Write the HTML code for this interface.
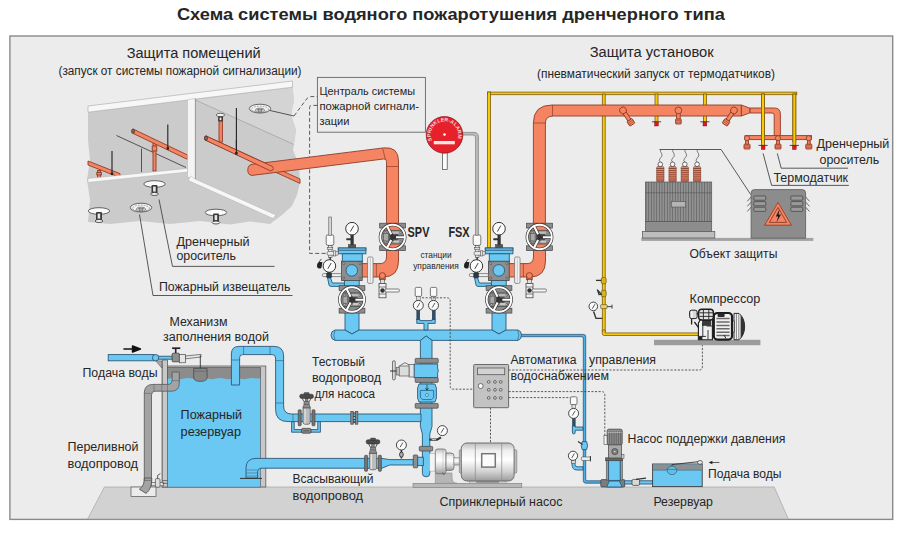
<!DOCTYPE html>
<html><head><meta charset="utf-8">
<style>
html,body{margin:0;padding:0;background:#fff;}
svg{display:block}
text{font-family:"Liberation Sans",sans-serif;fill:#262626}
.t{font-size:12.5px}
.rp{fill:#f48462;stroke:#8f3d28;stroke-width:.9}
.bp{fill:#6ac8f2;stroke:#2d5877;stroke-width:.9}
.yp{fill:#f8ca05;stroke:#7a5a14;stroke-width:.8}
.gp{fill:#9a9a9a;stroke:#555;stroke-width:.7}
.ld{fill:none;stroke:#333;stroke-width:.8}
.ds{fill:none;stroke:#4a4a4a;stroke-width:.9;stroke-dasharray:2.1 1.5}
.dl{fill:none;stroke:#5a5a5a;stroke-width:1;stroke-dasharray:4 2.4}
.fl{fill:#8d8d8d;stroke:#444;stroke-width:.7}
.wh{fill:#f6f6f6;stroke:#555;stroke-width:.7}
.k{fill:none;stroke:#333;stroke-width:.8}
</style></head><body>
<svg width="900" height="534" viewBox="0 0 900 534">
<rect width="900" height="534" fill="#fff"/>
<text x="450.9" y="19.9" text-anchor="middle" font-size="17.3" font-weight="bold" textLength="548" lengthAdjust="spacingAndGlyphs" fill="#1d1d1d">Схема системы водяного пожаротушения дренчерного типа</text>
<!-- panel -->
<rect x="9.9" y="36" width="882.8" height="483.4" fill="#ececec" stroke="#8a8a8a" stroke-width="1.4"/>
<!-- floor -->
<polygon points="104.4,487 774.2,487 788.3,519 87.6,519" fill="#d2d2d2" stroke="#9a9a9a" stroke-width=".6"/>
<defs>
<g id="sprk">
<ellipse rx="10.7" ry="3.3" fill="#fafafa" stroke="#444" stroke-width=".8"/>
<rect x="-3" y="1" width="6" height="8.6" rx="1" fill="#3a3a3a"/>
<rect x="-1.4" y="2.6" width="2.6" height="5" fill="#e8e8e8"/>
<ellipse cy="10" rx="3.9" ry="1.5" fill="#f4f4f4" stroke="#333" stroke-width=".8"/>
</g>
<g id="smk">
<ellipse rx="10.7" ry="4.4" fill="#f2f2f2" stroke="#444" stroke-width=".8"/>
<ellipse cy=".6" rx="8.4" ry="3" fill="none" stroke="#666" stroke-width=".6" stroke-dasharray="1.6 1.2"/>
<ellipse cy="1.8" rx="4.6" ry="2.2" fill="#c9c9c9" stroke="#555" stroke-width=".6"/>
<path d="M-3,1 H3 M-2,2.6 H2 M-1.4,.2 V3.6 M1.4,.2 V3.6" stroke="#555" stroke-width=".5" fill="none"/>
</g>
</defs>
<g id="ceiling">
<!-- gray mass -->
<path d="M88,112 L292.5,87 L294,100 L291,115 L296,130 L293,150 L299,165 L300,183 L297,195 L292,206 L282,215 L270,224 L250,221.5 L230,224.5 L200,221 L170,224 L140,221 L110,224 L88,222 L90,200 L87,180 L90,160 L88,140Z" fill="#cbcbcb"/>
<!-- right room back wall lighter -->
<path d="M195.5,100 L292.5,87.6 L294,100 L291,115 L296,130 L294,144Z" fill="#d4d4d4"/>
<path d="M195.5,100 L294,144.5" fill="none" stroke="#8f8f8f" stroke-width=".5"/>
<!-- left room inner lines -->
<path d="M116.5,135.5 L186,167.5 M141.5,148.5 V172" class="k" stroke-width=".6"/>
<!-- small pipe B (left-front) -->
<path d="M88,161 L120,173.6 L120,177.6 L88,165Z" class="rp" stroke-width=".6"/>
<rect x="97.6" y="170.5" width="3" height="8" class="rp" stroke-width=".5"/>
<rect x="96.8" y="172.5" width="4.6" height="2.4" class="rp" stroke-width=".5"/>
<!-- pipe A -->
<rect x="153" y="143.5" width="3" height="27.5" class="rp" stroke-width=".5"/>
<rect x="152.2" y="146" width="4.6" height="5" class="rp" stroke-width=".5"/>
<path d="M133,129 L187.5,155 L187.5,159.4 L133,133.4Z" class="rp" stroke-width=".6"/>
<ellipse cx="133" cy="131.2" rx="1.5" ry="2.2" fill="#8a6a60" stroke="#4a2a20" stroke-width=".7"/>
<path d="M112,151 V174.6 M167.8,124.6 V149.4" stroke="#222" stroke-width="1.1"/>
<path d="M110.8,172.6 h2.4 v2.4 h-2.4z M166.6,147.2 h2.4 v2.4 h-2.4z" fill="#222"/>
<!-- top white beam -->
<path d="M88,106 L292.5,81 L292.5,87.2 L88,112.2Z" fill="#f7f7f7" stroke="#999" stroke-width=".5"/>
<!-- right room pipe C drop + sprinkler on ceiling -->
<rect x="219" y="117" width="3.4" height="25" class="rp" stroke-width=".5"/>
<ellipse cx="220.4" cy="115" rx="4.2" ry="1.7" fill="#f4f4f4" stroke="#333" stroke-width=".7"/>
<rect x="218.2" y="116.4" width="4.6" height="5" rx="1" fill="#333"/><rect x="219.6" y="117.6" width="1.8" height="2.6" fill="#eee"/>
<path d="M206,136 L300,179 L300,183.4 L206,140.4Z" class="rp" stroke-width=".6"/>
<ellipse cx="206" cy="138.2" rx="1.5" ry="2.2" fill="#8a6a60" stroke="#4a2a20" stroke-width=".7"/>
<path d="M236.4,108 V154.4" stroke="#222" stroke-width="1.1"/><path d="M235.2,152 h2.4 v2.6 h-2.4z" fill="#222"/>
<!-- vertical divider -->
<path d="M187.5,99.6 L195.4,98.6 L195.4,180 L187.5,177Z" fill="#f4f4f4" stroke="#b5b5b5" stroke-width=".5"/>
<path d="M195.4,98.7 V180" fill="none" stroke="#777" stroke-width=".6"/>
<!-- lower left beam -->
<path d="M88,178.6 L187.5,168.4 L187.5,172 L88,182.4Z" fill="#f7f7f7" stroke="#aaa" stroke-width=".4"/>
<!-- right lower beam -->
<path d="M190.5,176 L195,179 L276,215 L273,218.4 L188.5,180.6Z" fill="#f7f7f7" stroke="#aaa" stroke-width=".4"/>
<!-- sprinklers & detectors -->
<use href="#sprk" x="154.5" y="184"/>
<use href="#sprk" x="99" y="211"/>
<use href="#sprk" x="216" y="212.5"/>
<use href="#smk" x="260" y="108.6"/>
<use href="#smk" x="141" y="207.6"/>
<!-- leaders -->
<path d="M270,110.5 L294,116" class="k" stroke-width=".7"/>
<path d="M159,199.5 L172.5,266.4 H274.5" class="k" stroke-width=".7"/>
<path d="M139.5,214.5 L153,295.5 H292.5" class="k" stroke-width=".7"/>
</g>
<g id="tank">
<!-- tank walls -->
<rect x="162.2" y="366" width="103.6" height="121" fill="#c8c8c8" stroke="#5a5a5a" stroke-width=".8"/>
<rect x="162.2" y="360" width="5.4" height="127" fill="#c8c8c8" stroke="#5a5a5a" stroke-width=".8"/>
<rect x="167.6" y="367.4" width="93" height="119.6" fill="#8c8c8c" stroke="#5a5a5a" stroke-width=".7"/>
<!-- water -->
<path d="M167.8,379 Q172,377.2 176,378.6 T184,378.6 T192,378.6 T200,378.6 T208,378.6 T216,378.6 T224,378.6 T232,378.6 T240,378.6 T248,378.6 T256,378.6 L260.2,378.2 V486.7 H167.8Z" fill="#6ac8f2"/>
<!-- overflow pipe (gray) -->
<path d="M144.3,484 V393 Q144.3,384.4 153,384.4 H168 Q172.1,384.4 172.1,380 V372 H179.3 V383 Q179.3,391.2 171,391.2 H155 Q151.5,391.2 151.5,395 V484Z" fill="#a3a3a3" stroke="#555" stroke-width=".8"/>
<path d="M144.3,393.4 H151.5 M154,384.4 V391.2 M161.8,384.4 V391.2 M167.5,384.4 V391.2 M172.1,380.6 H179.3" stroke="#666" stroke-width=".6" fill="none"/>
<!-- drain box -->
<rect x="131" y="487" width="25" height="9.4" fill="#ececec" stroke="#555" stroke-width=".7"/>
<path d="M144.3,478 C144.3,484 142.6,487 139.4,489.2 L146,493.4 C150,490.4 151.8,485 151.8,478Z" fill="#a3a3a3" stroke="#4a4a4a" stroke-width=".8"/><path d="M144.3,480.4 H151.7" stroke="#555" stroke-width=".6"/>
</g>
<g id="yellow">
<!-- top horizontal -->
<rect x="487.5" y="92.1" width="309.3" height="2.6" class="yp"/>
<rect x="487.6" y="92" width="3" height="156" class="yp"/>
<rect x="602.3" y="94" width="2.9" height="238" class="yp"/>
<rect x="655" y="94" width="3" height="28" class="yp"/>
<rect x="703.4" y="94" width="3" height="28" class="yp"/>
<rect x="761.5" y="94" width="3" height="48" class="yp"/>
<rect x="792.8" y="94" width="3" height="48" class="yp"/>
<path d="M602.3,330 V333.6 Q602.3,335.5 604.2,335.5 H700 V332.9 H605.1 V330Z" class="yp"/>
</g>
<g id="redpipes">
<!-- left big pipe from ceiling -->
<path d="M252,164.3 L383.5,147.9 Q398.5,146.4 398.5,161 L398.5,224 L386.5,224 L386.5,161.5 Q386.5,158.6 383.6,159 L252,175.4 Q247.6,175 247.8,169.8 Q248,164.8 252,164.3Z" class="rp"/>
<path d="M382.6,148 L385.3,159.2 M386.5,166.5 H398.5" fill="none" stroke="#8f3d28" stroke-width=".7"/>
<path d="M206,136 L272.4,166.4 Q274.4,168.6 272.6,170.2 Q271,171.4 269,170.2 L206,140.4Z" class="rp" stroke-width=".6"/>
<ellipse cx="206" cy="138.2" rx="1.5" ry="2.2" fill="#8a6a60" stroke="#4a2a20" stroke-width=".7"/>
<path d="M236.4,140 V154.4" stroke="#222" stroke-width="1.1"/><path d="M235.2,152 h2.4 v2.6 h-2.4z" fill="#222"/>
<!-- left lower elbow -->
<path d="M386.5,250 V257 Q386.5,263.6 380,263.6 H361 V277 H383 Q398.5,277 398.5,261 V250Z" class="rp"/>
<!-- right big pipe -->
<path d="M741.4,105 H552 Q533.4,105 533.4,123 V224 H545.4 V123 Q545.4,116 553.5,116 H741.4Z" class="rp"/>
<path d="M552.5,105 V116 M533.4,123 H545.4" fill="none" stroke="#8f3d28" stroke-width=".7"/>
<path d="M741.4,105 L750,108.2 V112.8 L741.4,116Z" class="rp"/>
<path d="M750,108 H774.5 Q780.4,108 780.4,114 V136 H774.2 V115 Q774.2,113 772,113 H750Z" class="rp"/>
<rect x="745" y="135.6" width="66.5" height="4" class="rp"/>
<!-- right lower elbow -->
<path d="M533.5,250 V257 Q533.5,263.6 527,263.6 H508 V277 H530 Q545.5,277 545.5,261 V250Z" class="rp"/>
</g>
<g id="bluepipes">
<!-- thin line to jockey pump -->
<path d="M519,334.4 H583.4 Q585.7,334.4 585.7,336.7 V479 Q585.7,480.8 587.4,480.8 H601.5 V483.2 H586 Q583.3,483.2 583.3,480.6 V338 Q583.3,336.7 582,336.7 H519Z" style="fill:#4db0e6;stroke:#2d5877;stroke-width:.8"/>
<!-- risers -->
<path d="M345,312 V330 L352,334 L359,330 V312Z" class="bp"/>
<path d="M492,312 V330 L499,334 L506,330 V312Z" class="bp"/>
<!-- header -->
<path d="M335,330 H345 L352,334 L359,330 H492 L499,334 L506,330 H518 Q521.5,331 521.5,335.2 Q521.5,339.4 518,340.4 H432 L426.2,336 L420.4,340.4 H335 Q331,339.4 331,335.2 Q331,331 335,330Z" class="bp"/>
<path d="M335,330.3 Q332.6,335.2 335,340.2 M517.6,330.3 Q520,335.2 517.6,340.2" fill="none" stroke="#2d5877" stroke-width=".6"/>
<!-- center down -->
<path d="M420.4,340.4 L426.2,336 L432,340.4 V426.5 L429.8,434 V473.4 Q429.8,476.8 426.1,476.8 Q422.4,476.8 422.4,473.4 V434 L420.4,426.5Z" class="bp"/>
<!-- test pipe -->
<path d="M231.4,385 V354 Q231.4,346.4 239,346.4 H274 Q283.6,346.4 283.6,356 V406 Q283.6,414 291.6,414 H421 V421.6 H288 Q275.6,421.6 275.6,409.4 V358 Q275.6,354.6 272.2,354.6 H242.6 Q239.6,354.6 239.6,357.6 V385Z" class="bp"/><path d="M231.4,360 H239.6 M243.6,346.4 V354.6 M270,346.4 V354.6 M275.6,360.6 H283.6 M275.6,403 H283.6 M293,414 V421.6" stroke="#2d5877" stroke-width=".6" fill="none"/>
<!-- suction pipe -->
<path d="M246,478 V468 Q246,458.4 256,458.4 H382 L389.6,459.6 H413.3 V465 H389.6 L382,468.2 H262 Q257.6,468.2 257.6,472 V478Z" class="bp"/>
<!-- inlet -->
<rect x="108.2" y="354.6" width="46" height="6.2" class="bp"/>
</g>
<defs>
<g id="gauge"><circle r="6.3" fill="#fbfbfb" stroke="#333" stroke-width="1"/><path d="M-1.6,2.8 L1.8,-3" stroke="#333" stroke-width=".9"/></g>
<g id="gaugeS"><circle r="5" fill="#fbfbfb" stroke="#333" stroke-width=".9"/><path d="M-1.3,2.2 L1.5,-2.5" stroke="#333" stroke-width=".8"/></g>
<!-- butterfly valve w/ handwheel; pipe colour = currentColor -->
<clipPath id="wc"><circle r="11.6"/></clipPath>
<g id="bfv">
<rect x="-12.9" y="-13.8" width="25.8" height="4.8" class="fl"/>
<rect x="-12.9" y="8.8" width="25.8" height="4.8" class="fl"/>
<circle r="11.6" fill="currentColor"/>
<g clip-path="url(#wc)">
<rect x="-12" y="-6.6" width="24" height="13.6" fill="#8d8d8d"/>
<path d="M-12,-6.6 H12 M-12,7 H12" stroke="#444" stroke-width=".7"/>
<rect x="-9" y="-3.4" width="4.6" height="7.4" fill="#a9a9a9" stroke="#444" stroke-width=".5"/>
<rect x="-3.4" y="-3" width="9" height="7" fill="#4e4e4e"/>
<rect x="-1" y="-5.4" width="8" height="2.2" fill="#bdbdbd"/>
<rect x="1" y="3.4" width="6" height="2.2" fill="#c9c9c9"/>
</g>
<circle cx="-7.4" cy="-4.4" r=".9" fill="#ddd" stroke="#222" stroke-width=".4"/><circle cx="7.6" cy="-4.4" r=".9" fill="#ddd" stroke="#222" stroke-width=".4"/><circle cx="-7.4" cy="4.8" r=".9" fill="#ddd" stroke="#222" stroke-width=".4"/><circle cx="7.6" cy="4.8" r=".9" fill="#ddd" stroke="#222" stroke-width=".4"/>
<circle r="12.3" fill="none" stroke="#333" stroke-width="3.2"/>
<path d="M0,0 L-5.4,-10.6 M0,.3 L11.4,.3 M0,0 L-5.4,10.8" stroke="#333" stroke-width="3.4" fill="none"/>
<circle r="12.3" fill="none" stroke="#fdfdfd" stroke-width="1.9"/>
<path d="M-1.4,-2.8 L-5.8,-11.4 M3.4,.3 L12.3,.3 M-1.4,3 L-5.8,11.6" stroke="#fdfdfd" stroke-width="2.1" fill="none"/>
</g>
<!-- deluge valve station, left absolute coordinates -->
<g id="station">
<!-- upper gauge + stem -->
<rect x="350.5" y="234" width="3.2" height="14" fill="#333"/>
<rect x="346.2" y="238.2" width="6" height="2" rx=".8" fill="#333"/>
<rect x="348.4" y="244.6" width="7.4" height="3.4" fill="#555" stroke="#222" stroke-width=".4"/>
<use href="#gauge" x="352" y="228.7"/>
<!-- blue cap/body -->
<rect x="338.3" y="248" width="27.6" height="5.8" class="bp"/>
<rect x="338.3" y="248" width="27.6" height="2.2" class="bp"/>
<rect x="342.3" y="253.8" width="20" height="8" class="bp"/>
<rect x="344.4" y="279.6" width="14.8" height="7" class="bp"/>
<!-- gray square body -->
<rect x="341.5" y="261.2" width="20.7" height="19.2" fill="#8e8e8e" stroke="#444" stroke-width=".8"/>
<circle cx="343.8" cy="263.6" r="1" fill="#bbb" stroke="#333" stroke-width=".5"/><circle cx="359.9" cy="263.6" r="1" fill="#bbb" stroke="#333" stroke-width=".5"/><circle cx="343.8" cy="278" r="1" fill="#bbb" stroke="#333" stroke-width=".5"/><circle cx="359.9" cy="278" r="1" fill="#bbb" stroke="#333" stroke-width=".5"/>
<circle cx="351.8" cy="270.4" r="5.8" class="bp" stroke-width="1"/>
<!-- trim left: white cylinder, fittings -->
<rect x="326.2" y="234.8" width="7.6" height="10.6" rx="1.8" fill="#fafafa" stroke="#444" stroke-width=".7"/>
<rect x="328.4" y="245.4" width="3.6" height="12" fill="#e6e6e6" stroke="#444" stroke-width=".6"/>
<rect x="327.6" y="247.6" width="5.2" height="2" fill="#ddd" stroke="#444" stroke-width=".5"/>
<rect x="327.2" y="251.6" width="11" height="3.6" rx="1" fill="#f0f0f0" stroke="#444" stroke-width=".6"/>
<rect x="333.4" y="250.8" width="2.4" height="5.2" fill="#ddd" stroke="#444" stroke-width=".5"/>
<path d="M330.2,257 V260" stroke="#444" stroke-width="1.6"/>
<!-- left gauge -->
<path d="M318.6,262 q-2.4,2 -1.6,5 q1.6,2.4 4.4,1 l1,-6z" fill="#222"/>
<path d="M319,262 l2.4,-3" stroke="#222" stroke-width=".8"/>
<use href="#gauge" x="329.4" y="266"/>
<!-- under left gauge -->
<rect x="322.4" y="273.6" width="19" height="3" rx="1.2" fill="#f0f0f0" stroke="#444" stroke-width=".6"/>
<rect x="326.6" y="272.6" width="5" height="5.6" rx="1.4" fill="#2a3a44" stroke="#111" stroke-width=".4"/>
<path d="M327.6,278 L330.6,278 L332.4,283 H344.4 V286.4 H331 Q329.4,286.4 329,285Z" class="bp" stroke-width=".7"/>
<!-- red side: flange, drain, ball valve -->
<rect x="367.6" y="257" width="5.4" height="26.4" rx="1.4" fill="#f4f4f4" stroke="#666" stroke-width=".7"/>
<path d="M370.3,258 V282.4" stroke="#999" stroke-width=".5"/>
<path d="M376.4,263.8 V277" stroke="#8f3d28" stroke-width=".7"/>
<path d="M379.6,274 V280 H385.2 V274" class="rp" stroke-width=".6"/>
<circle cx="382.4" cy="275.6" r="3" class="rp" stroke-width=".6"/>
<rect x="380.6" y="279.6" width="3.8" height="4" fill="#ddd" stroke="#333" stroke-width=".5"/>
<rect x="379" y="283.4" width="7" height="14.4" fill="#f2f2f2" stroke="#333" stroke-width=".7"/>
<path d="M379,287 H386 M379,294 H386" stroke="#333" stroke-width=".6"/>
<circle cx="382.5" cy="290.5" r="2.2" fill="#333"/>
<rect x="385" y="289" width="14.4" height="3" rx="1.2" fill="#f7f7f7" stroke="#333" stroke-width=".6"/>
</g>
</defs>
<g id="valves">
<use href="#station"/>
<use href="#station" x="147"/>
<!-- upper butterfly valves on red pipes -->
<use href="#bfv" x="392.6" y="237" color="#f48462"/>
<use href="#bfv" x="539.5" y="237" color="#f48462"/>
<!-- lower butterfly valves on blue risers -->
<use href="#bfv" x="352" y="299.5" color="#8a8a8a"/>
<use href="#bfv" x="499" y="299.5" color="#8a8a8a"/>
<!-- left: rod above white cylinder -->
<rect x="328.8" y="217" width="2.8" height="18.4" fill="#d8d8d8" stroke="#555" stroke-width=".6"/>
<!-- right: gray tube from alarm, joins white cylinder -->
<path d="M462,132.4 H474 Q478.4,132.4 478.4,137 V235.4 H475.6 V138 Q475.6,135 473,135 H462Z" fill="#bdbdbd" stroke="#777" stroke-width=".7"/>
</g>
<defs>
<linearGradient id="mg" x1="0" y1="0" x2="0" y2="1">
<stop offset="0" stop-color="#bdbdbd"/><stop offset=".2" stop-color="#efefef"/><stop offset=".45" stop-color="#ffffff"/><stop offset=".75" stop-color="#d2d2d2"/><stop offset="1" stop-color="#9c9c9c"/>
</linearGradient>
<!-- gate valve (handwheel), centred on pipe axis at 0,0; pipe horizontal -->
<g id="gatev">
<rect x="-8.4" y="-8" width="3" height="16" rx=".8" fill="#757575" stroke="#3a3a3a" stroke-width=".6"/>
<rect x="5.4" y="-8" width="3" height="16" rx=".8" fill="#757575" stroke="#3a3a3a" stroke-width=".6"/>
<path d="M-3.6,-10 H3.6 V5 Q3.6,6.6 0,6.6 Q-3.6,6.6 -3.6,5Z" fill="#bcbcbc" stroke="#555" stroke-width=".7"/>
<path d="M-1.6,-9 V5.6" stroke="#e2e2e2" stroke-width="1.2"/>
<path d="M-3.8,-10 L-2.6,-13.4 V-16.4 H2.6 V-13.4 L3.8,-10Z" fill="#8c8c8c" stroke="#444" stroke-width=".6"/>
<path d="M-2.6,-13.4 H2.6" stroke="#444" stroke-width=".5"/>
<path d="M-2.8,-16.4 L-4.4,-19.6 M2.8,-16.4 L4.4,-19.6" stroke="#333" stroke-width=".8"/>
<rect x="-1.3" y="-19.6" width="2.6" height="3.4" fill="#888" stroke="#333" stroke-width=".4"/>
<rect x="-6.9" y="-23.6" width="13.8" height="4.2" rx="2" fill="#4a4a4a" stroke="#222" stroke-width=".5"/>
<rect x="-2.6" y="-25.2" width="5.2" height="2" rx=".8" fill="#5a5a5a" stroke="#222" stroke-width=".4"/>
</g>
</defs>
<g id="centre">
<!-- header gauges -->
<rect x="415.2" y="287.4" width="6.4" height="9" rx="1.2" fill="#fafafa" stroke="#444" stroke-width=".7"/>
<rect x="430.4" y="287.4" width="6.4" height="9" rx="1.2" fill="#fafafa" stroke="#444" stroke-width=".7"/>
<rect x="416.6" y="296.4" width="3.6" height="4" fill="#ddd" stroke="#444" stroke-width=".5"/>
<rect x="431.8" y="296.4" width="3.6" height="4" fill="#ddd" stroke="#444" stroke-width=".5"/>
<path d="M416.8,319 V323.4 H424 V330 H428 V323.4 H435.2 V319 H432.2 V320.6 H419.8 V319Z" class="bp" stroke-width=".7"/>
<rect x="416.8" y="310" width="3" height="9.4" fill="#2c4f6e" stroke="#16293a" stroke-width=".4"/>
<rect x="432.2" y="310" width="3" height="9.4" fill="#2c4f6e" stroke="#16293a" stroke-width=".4"/>
<use href="#gaugeS" x="418.3" y="305.4"/>
<use href="#gaugeS" x="433.5" y="305.4"/>
<!-- actuator valve on centre pipe -->
<path d="M414,364 H437.6 V368 Q439,370.6 437.6,373.4 V377.6 H414Z" class="bp"/>
<rect x="415.2" y="358.4" width="23" height="4.8" rx=".8" class="fl"/>
<rect x="415.2" y="377.6" width="23" height="4.8" rx=".8" class="fl"/>
<rect x="415.2" y="403.4" width="23" height="4.8" rx=".8" class="fl"/>
<!-- actuator body left -->
<rect x="409" y="364.4" width="5" height="12.6" fill="#e4e4e4" stroke="#444" stroke-width=".6"/>
<path d="M399,366 H409 V376 H399 Q397,371 399,366Z" fill="#dcdcdc" stroke="#444" stroke-width=".6"/>
<path d="M399.4,366 L405,362.6 L409,365" fill="none" stroke="#444" stroke-width=".7"/>
<rect x="396.4" y="367.4" width="3" height="7.6" fill="#bbb" stroke="#444" stroke-width=".5"/>
<rect x="392.6" y="360.8" width="2.6" height="19" rx="1" fill="#e8e8e8" stroke="#333" stroke-width=".7"/>
<path d="M390,371 H396.4" stroke="#333" stroke-width="1"/>
<!-- check valve -->
<path d="M419,384 H435 L436.4,388 V398 L435,402 H419 L417.6,398 V388Z" class="bp" stroke="#1d5e88" stroke-width=".9"/>
<path d="M420.4,390.4 H433.6 V397.4 L431.6,399.6 H422.4 L420.4,397.4Z" fill="none" stroke="#1d5e88" stroke-width=".8"/>
<path d="M427,384.6 V389.6 M425.4,388 L427,390.2 L428.6,388" fill="none" stroke="#222" stroke-width=".7"/>
<circle cx="427" cy="395" r="1.5" fill="#bfe6fa" stroke="#1d5e88" stroke-width=".6"/>
<!-- test-pipe flange and gate valve -->
<rect x="350.8" y="411.4" width="2.4" height="12.8" class="fl" fill="#555"/>
<rect x="355.4" y="411.4" width="2.4" height="12.8" class="fl" fill="#555"/>
<path d="M353.2,413 H355.4 M353.2,416.4 H355.4 M353.2,419.6 H355.4 M353.2,422.6 H355.4" stroke="#222" stroke-width=".8"/>
<path d="M291.6,421.6 V432.2 H320.4 V421.6 H317.8 V429.6 H294.2 V421.6Z" class="bp" stroke-width=".6"/>
<rect x="301.6" y="428.4" width="9.4" height="4.8" rx="1.2" fill="#8a8a8a" stroke="#333" stroke-width=".7"/><path d="M303.4,430.8 H309.2" stroke="#333" stroke-width=".6"/>
<use href="#gatev" x="306.6" y="417.8"/>
<!-- suction gate valve -->
<use href="#gatev" x="373" y="463.3"/>
<!-- suction gauge -->
<path d="M401.4,450 V458.4" stroke="#333" stroke-width="1.6"/>
<ellipse cx="401.4" cy="454.6" rx="1.9" ry="2.6" fill="#aaa" stroke="#222" stroke-width=".8"/>
<use href="#gaugeS" x="401.4" y="445"/>
<!-- discharge gauge -->
<path d="M429.4,439.6 H437 L441,437.4" stroke="#333" stroke-width="2.2" fill="none"/>
<path d="M431.6,439.6 H436" stroke="#ccc" stroke-width="1"/>
<use href="#gaugeS" x="442.4" y="430.6"/>
<!-- suction flange and vertical flange -->
<rect x="413.3" y="455" width="4.4" height="12.8" rx=".8" class="fl"/>
<rect x="417.7" y="457.2" width="5.6" height="8.4" class="bp" stroke-width=".6"/>
<rect x="419.3" y="446.4" width="13.4" height="4.6" rx=".8" class="fl"/>
</g>
<g id="pump">
<!-- base plate -->
<rect x="413" y="483.3" width="108.8" height="4.2" fill="#b9b9b9" stroke="#7a7a7a" stroke-width=".6"/>
<!-- pump stand -->
<path d="M435.3,483.3 V473 H452 V477 Q452,483.3 457,483.3Z" fill="#b6b6b6" stroke="#8a8a8a" stroke-width=".6"/>
<!-- back plate -->
<rect x="429.3" y="453.7" width="6.4" height="17.4" fill="#f4f4f4" stroke="#999" stroke-width=".5"/>
<!-- pump housing -->
<rect x="435.3" y="449" width="10.8" height="24.8" rx="2.4" fill="url(#mg)" stroke="#707070" stroke-width=".8"/>
<path d="M446,453 H451 Q454,453 454,456 V467.4 Q454,470.4 451,470.4 H446Z" fill="url(#mg)" stroke="#707070" stroke-width=".8"/>
<path d="M443,449.6 V473.2" stroke="#aaa" stroke-width=".5"/>
<path d="M442.6,472.6 l1.8,2.4" stroke="#333" stroke-width=".7"/>
<rect x="454" y="457.7" width="6" height="7.4" fill="url(#mg)" stroke="#888" stroke-width=".5"/>
<!-- motor -->
<rect x="459.3" y="449.7" width="3.4" height="23.4" rx="1.2" fill="#bdbdbd" stroke="#777" stroke-width=".6"/>
<rect x="513.4" y="449.7" width="3.4" height="23.4" rx="1.2" fill="#bdbdbd" stroke="#777" stroke-width=".6"/>
<rect x="476" y="481" width="23" height="2" fill="#9a9a9a"/>
<rect x="469.3" y="480" width="7.4" height="3.4" fill="#cfcfcf" stroke="#888" stroke-width=".5"/>
<rect x="498.6" y="480" width="7.4" height="3.4" fill="#cfcfcf" stroke="#888" stroke-width=".5"/>
<rect x="461.3" y="443" width="52.8" height="38" rx="5.6" fill="url(#mg)" stroke="#636363" stroke-width=".9"/>
<path d="M475.3,443.4 V480.6 M501.7,443.4 V480.6" stroke="#8a8a8a" stroke-width=".7"/>
<rect x="481.7" y="453.7" width="13.6" height="13.4" fill="#fbfbfb" stroke="#777" stroke-width="1.5"/>
</g>
<defs>
<!-- small nozzle hanging from manifold; origin at joint centre -->
<g id="nzS">
<rect x="-1.4" y="2" width="2.8" height="4.4" class="rp" stroke-width=".5"/>
<circle r="2.6" class="rp" stroke-width=".6"/>
<rect x="-3" y="6" width="6" height="4.8" rx=".6" class="rp" stroke-width=".6"/>
<path d="M-3,7.6 H3 M-3,9.2 H3" stroke="#8f3d28" stroke-width=".5"/>
</g>
<!-- large nozzle, pointing down from joint; origin at joint centre -->
<g id="nzL">
<rect x="-1.8" y="2.6" width="3.6" height="6.4" class="rp" stroke-width=".6"/>
<circle r="3.4" class="rp" stroke-width=".8"/>
<rect x="-2.8" y="8.6" width="5.6" height="5" rx=".6" class="rp" stroke-width=".7"/>
<path d="M-2.8,10.2 H2.8 M-2.8,11.9 H2.8" stroke="#8f3d28" stroke-width=".5"/>
</g>
<g id="nzA">
<rect x="-1.8" y="2.6" width="3.6" height="9.4" class="rp" stroke-width=".6"/>
<circle r="3.4" class="rp" stroke-width=".8"/>
<rect x="-3" y="11.6" width="6" height="5.4" rx=".6" class="rp" stroke-width=".7"/>
<path d="M-3,13.4 H3 M-3,15.2 H3" stroke="#8f3d28" stroke-width=".5"/>
</g>
<g id="thermo">
<path d="M-4.6,0 H4.6" stroke="#222" stroke-width=".8"/>
<rect x="-1.9" y=".4" width="3.8" height="3.8" fill="#e3151f" stroke="#8a0d12" stroke-width=".4"/>
</g>
<g id="insul">
<path d="M0,-19.8 q-2.2,-1.6 0,-3.8 q2.8,-2.2 1.4,-4.6 q-1.6,-2 -1.4,-4.1" fill="none" stroke="#333" stroke-width=".6"/>
<rect x="-3.6" y="-15.2" width="7.2" height="15.2" rx="1" fill="#e98b6b" stroke="#7a3826" stroke-width=".5"/>
<path d="M-3.9,-13.3 H3.9 M-3.9,-11.2 H3.9 M-3.9,-9.1 H3.9 M-3.9,-7 H3.9 M-3.9,-4.9 H3.9 M-3.9,-2.8 H3.9 M-3.9,-.9 H3.9" stroke="#7a3826" stroke-width=".8"/>
<circle cx="0" cy="-17.5" r="2.3" fill="#fafafa" stroke="#333" stroke-width=".7"/>
</g>
<pattern id="fins" x="645.6" width="2.66" height="10" patternUnits="userSpaceOnUse"><rect width="2.66" height="10" fill="#929292"/><rect x="0" width=".8" height="10" fill="#646464"/></pattern>
</defs>
<g id="rightTop">
<!-- thermo sensors behind pipe level -->
<use href="#thermo" x="656.5" y="121.8"/>
<use href="#thermo" x="704.9" y="121.8"/>
<!-- large nozzles -->
<use href="#nzA" transform="translate(623,110.4) rotate(-33.5)"/>
<use href="#nzL" x="678.4" y="110.4"/>
<use href="#nzA" transform="translate(734,110.4) rotate(33.5)"/>
<!-- small nozzles on manifold -->
<use href="#nzS" x="747" y="138.2"/>
<use href="#nzS" x="778" y="138.2"/>
<use href="#nzS" x="808.8" y="138.2"/>
<!-- yellow drops in front of manifold -->
<rect x="761.6" y="94" width="2.9" height="52" class="yp"/>
<rect x="792.9" y="94" width="2.9" height="52" class="yp"/>
<use href="#thermo" x="763.1" y="145.4"/>
<use href="#thermo" x="794.3" y="145.4"/>
<!-- leaders -->
<path d="M763.1,153.4 L771.6,185.4 H848.8" class="k" stroke-width=".7"/>
<path d="M777.3,153.4 L781.2,168.2 H848" class="k" stroke-width=".7"/>
</g>
<g id="transformer">
<rect x="641.3" y="237.9" width="172" height="3" fill="#a2a2a2"/>
<path d="M659.6,149.5 H721.1 L750.7,194.5" class="k" stroke-width=".7"/>
<use href="#insul" x="660.3" y="181.8"/>
<use href="#insul" x="672.6" y="181.8"/>
<use href="#insul" x="684.8" y="181.8"/>
<use href="#insul" x="697.1" y="181.8"/>
<rect x="645.4" y="182" width="66.3" height="39.6" fill="url(#fins)" stroke="#555" stroke-width=".7"/>
<path d="M645.6,192.8 H711.6" stroke="#555" stroke-width=".6"/>
<rect x="671.3" y="201.6" width="14.4" height="5.4" fill="#b4b4b4" stroke="#555" stroke-width=".6"/>
<rect x="645.4" y="221.6" width="66.3" height="9.9" fill="#8d8d8d" stroke="#555" stroke-width=".7"/>
<rect x="642.4" y="231.5" width="72.4" height="6.5" fill="#bdbdbd" stroke="#555" stroke-width=".7"/>
<!-- cabinet -->
<path d="M747.3,201.3 l3.8,-4.3 M747.3,206.4 l3.8,-4.3 M747.3,211.5 l3.8,-4.3 M809.5,201.3 l-3.8,-4.3 M809.5,206.4 l-3.8,-4.3 M809.5,211.5 l-3.8,-4.3" stroke="#444" stroke-width=".8"/>
<path d="M751.1,238.2 V193 Q751.1,189.6 754.6,189.6 H802.2 Q805.6,189.6 805.6,193 V238.2Z" fill="#8c8c8c" stroke="#5a5a5a" stroke-width=".8"/>
<g fill="#999" stroke="#4a4a4a" stroke-width=".8">
<rect x="753.8" y="196" width="12" height="4.2" rx=".8"/><rect x="753.8" y="201.6" width="12" height="4.2" rx=".8"/><rect x="753.8" y="207.2" width="12" height="4.2" rx=".8"/>
<rect x="790.8" y="196" width="12" height="4.2" rx=".8"/><rect x="790.8" y="201.6" width="12" height="4.2" rx=".8"/><rect x="790.8" y="207.2" width="12" height="4.2" rx=".8"/>
</g>
<path d="M778,203.6 L790,224.2 H766Z" fill="#f48462" stroke="#f48462" stroke-width="2.4" stroke-linejoin="round"/><path d="M778,202.4 L791.4,225.2 H764.6Z" fill="none" stroke="#6e2a1a" stroke-width=".7" stroke-linejoin="round"/><path d="M778,207.4 L786.6,222.4 H769.4Z" fill="none" stroke="#6e2a1a" stroke-width=".7" stroke-linejoin="round"/>
<path d="M779.6,209 L775.8,216.6 H778.2 L776.4,222.6 L781,214.6 H778.5Z" fill="#1a1a1a"/>
</g>
<g id="alarm">
<!-- label box -->
<rect x="317.4" y="77.4" width="108" height="54.8" fill="#ececec" stroke="#666" stroke-width=".9"/>
<rect x="442.6" y="150" width="4.6" height="19.4" fill="#fbfbfb" stroke="#444" stroke-width=".7"/>
<circle cx="444.5" cy="134.9" r="18.3" fill="#e6212b" stroke="#7d1015" stroke-width=".7"/>
<circle cx="444.5" cy="134.5" r="1.3" fill="#fff"/>
<rect x="433.8" y="141" width="21" height="3.3" fill="#fbe6e6"/>
<path id="arc" d="M432.4,141.4 A13.6,13.6 0 1 1 457.4,139.2" fill="none"/>
<text font-size="5.1" font-weight="bold" style="fill:#fbd5d5" letter-spacing=".1"><textPath href="#arc" startOffset="1">SPRINKLER-ALARM</textPath></text>
</g>
<g id="compressor">
<rect x="654" y="339.8" width="106.4" height="5.4" fill="#9c9c9c"/>
<!-- fan cover -->
<path d="M734,313.4 H739 Q744.6,318 744.6,326.6 Q744.6,335 739,339.8 H734Z" fill="#f4f4f4" stroke="#2a2a2a" stroke-width="1"/>
<path d="M736.4,314 V339.4 M738.8,314.4 V339.2" stroke="#555" stroke-width=".7"/>
<path d="M740.6,315 Q745,321 744.8,326.6 Q744.8,333.4 740.6,338.6Z" fill="#333"/>
<rect x="731.6" y="321" width="3" height="11" fill="#ccc" stroke="#222" stroke-width=".6"/>
<!-- motor -->
<rect x="713.8" y="313" width="18.2" height="26.6" rx="3.6" fill="#f0f0f0" stroke="#1c1c1c" stroke-width="2.2"/>
<path d="M716.4,318.6 H729.6 M716.4,322 H729.6 M716.4,325.4 H729.6 M716.4,328.8 H729.6 M716.4,332.2 H729.6 M716.4,335.6 H729.6" stroke="#6a6a6a" stroke-width="1.5"/>
<rect x="717.6" y="313.4" width="7" height="3.6" rx="1" fill="#2a2a2a"/>
<path d="M724,335 l2,3.6" stroke="#222" stroke-width="1"/>
<!-- cylinder + head -->
<path d="M698.4,339.8 V323 L700.6,319.4 H712.4 V339.8Z" fill="#f0f0f0" stroke="#1c1c1c" stroke-width="1.1"/>
<path d="M702.8,323 V337 M706.6,326 H712 M699,336.4 H706 M708,330 V339" stroke="#222" stroke-width=".9"/>
<rect x="702.4" y="320" width="8.4" height="5.4" fill="#3a3a3a" stroke="#111" stroke-width=".5"/>
<rect x="698.6" y="309.2" width="14.8" height="10.8" rx="3.2" fill="#e4e4e4" stroke="#1c1c1c" stroke-width="1.4"/>
<path d="M699.4,312.8 H713 M699.4,316.4 H713 M703.4,310 V319.4 M708.8,310 V319.4" stroke="#222" stroke-width=".9"/>
<!-- air filter -->
<rect x="689.6" y="310.2" width="7.6" height="8.4" rx="2" fill="#d8d8d8" stroke="#222" stroke-width="1"/>
<path d="M692,311 V318" stroke="#fff" stroke-width="1.2"/>
<path d="M696.8,313.6 H699" stroke="#222" stroke-width="1.6"/>
<path d="M691.6,318.6 V324.6 M694.4,322 L698.4,327.4" stroke="#222" stroke-width="1.3"/>
<rect x="699" y="336.4" width="3.4" height="3.4" fill="#222"/>
</g>
<g id="ctrlpanel">
<rect x="473.7" y="364.5" width="34.9" height="43.2" rx=".8" fill="#c3c3c3" stroke="#6b6b6b" stroke-width="1"/>
<rect x="477.5" y="368" width="27.2" height="6.7" fill="#d2d2d2" stroke="#5a5a5a" stroke-width=".8"/>
<circle cx="480.7" cy="386" r="2.5" fill="#fbfbfb" stroke="#444" stroke-width=".7"/>
<g fill="#cdcdcd" stroke="#444" stroke-width=".7">
<circle cx="488.7" cy="381.9" r="1.4"/><circle cx="495" cy="381.9" r="1.4"/><circle cx="500.7" cy="381.9" r="1.4"/>
<circle cx="488.7" cy="389.8" r="1.4"/><circle cx="495" cy="389.8" r="1.4"/><circle cx="500.7" cy="389.8" r="1.4"/>
<circle cx="488.7" cy="397.9" r="1.4"/><circle cx="495" cy="397.9" r="1.4"/><circle cx="500.7" cy="397.9" r="1.4"/>
</g>
</g>
<g id="jockey">
<!-- gauges on thin blue line -->
<rect x="570.4" y="396.8" width="6.6" height="8" rx="1.4" fill="#fafafa" stroke="#444" stroke-width=".7"/>
<rect x="572" y="404.6" width="3.4" height="4" fill="#ddd" stroke="#444" stroke-width=".5"/>
<rect x="572.4" y="418.4" width="2.8" height="9" fill="#2c4f6e" stroke="#16293a" stroke-width=".4"/>
<path d="M572.4,426 V432 Q572.4,434 573.8,434 Q575.2,434 575.2,432 V430.2 H583 V427 H575.2 V426Z" class="bp" stroke-width=".6"/>
<use href="#gaugeS" x="573.6" y="413.4"/>
<path d="M572,460 V464 Q572,470 577,470 H583 V466.8 H577.4 Q575,466.8 575,464.4 V460Z" class="bp" stroke-width=".6"/>
<rect x="571.6" y="459.6" width="3.6" height="3.6" fill="#ddd" stroke="#444" stroke-width=".5"/>
<circle cx="573" cy="455.8" r="4.6" fill="#fbfbfb" stroke="#333" stroke-width=".9"/><path d="M571.8,458 L574.4,453.4" stroke="#333" stroke-width=".8"/>
<!-- small valve on line -->
<path d="M582.2,441.6 H586.6 L587.6,445.6 L586.6,449.6 H582.2 L581.2,445.6Z" class="bp" stroke-width=".6"/>
<path d="M582.6,444.6 L578,441.4" stroke="#333" stroke-width="1.2"/>
<rect x="581.4" y="457" width="9" height="3.4" rx=".8" fill="#f2f2f2" stroke="#444" stroke-width=".6"/>
<path d="M590.4,456 V461.4" stroke="#333" stroke-width="1"/>
<!-- jockey pump -->
<rect x="600.8" y="479.6" width="24" height="7.4" rx="1" fill="#7c7c7c" stroke="#3c3c3c" stroke-width=".7"/>
<path d="M606.6,487 L609.4,481 H619.4 L622.2,487Z" class="bp" stroke-width=".6"/>
<rect x="606.2" y="459" width="2.4" height="21" fill="#9a9a9a" stroke="#444" stroke-width=".5"/>
<rect x="620.2" y="459" width="2.4" height="21" fill="#9a9a9a" stroke="#444" stroke-width=".5"/>
<rect x="608.6" y="460" width="11.6" height="20.4" class="bp" stroke-width=".6"/>
<rect x="605.6" y="457.8" width="17" height="3" fill="#666" stroke="#333" stroke-width=".5"/>
<rect x="608.4" y="444.6" width="13" height="13.4" fill="#a8a8a8" stroke="#444" stroke-width=".7"/>
<circle cx="614.8" cy="451.6" r="3" fill="#8a8a8a" stroke="#333" stroke-width=".7"/><circle cx="614.8" cy="451.6" r="1.2" fill="#ddd" stroke="#333" stroke-width=".4"/>
<rect x="621.4" y="454.4" width="2.6" height="4" fill="#ccc" stroke="#444" stroke-width=".5"/>
<rect x="604" y="435.4" width="4" height="9" fill="#f4f4f4" stroke="#444" stroke-width=".6"/>
<rect x="607.2" y="429.2" width="15" height="15.6" rx="1.6" fill="#8f8f8f" stroke="#444" stroke-width=".8"/>
<path d="M609.6,431 V444 M611.8,431 V444 M614,431 V444 M616.2,431 V444 M618.4,431 V444 M620.4,431 V444" stroke="#555" stroke-width=".7"/>
<path d="M607.6,432.4 H621.8" stroke="#bbb" stroke-width=".8"/>
<!-- pipe pump -> tank with ball valve -->
<rect x="624.6" y="480.8" width="28" height="3.2" class="bp" stroke-width=".6"/>
<rect x="632" y="479.4" width="7.6" height="6" rx="1.4" fill="#d8d8d8" stroke="#333" stroke-width=".7"/>
<path d="M636,479.4 L646,478.2" stroke="#333" stroke-width="1.3"/>
<!-- reservoir -->
<rect x="652.6" y="464" width="49.6" height="22.6" fill="#6ac8f2" stroke="#3c3c3c" stroke-width=".9"/>
<rect x="653.1" y="464.5" width="48.6" height="5.6" fill="#8f8f8f"/>
<path d="M653,470.2 H702" stroke="#2d5877" stroke-width=".5"/>
<ellipse cx="672" cy="470.4" rx="4.8" ry="4.2" fill="#63bde6" stroke="#2a5d7d" stroke-width=".7"/>
<path d="M667.4,469.4 H676.6" stroke="#2a5d7d" stroke-width=".6"/>
<path d="M672,466 V464.6 L699,461.6" fill="none" stroke="#333" stroke-width=".9"/>
<ellipse cx="700" cy="462.4" rx="2.4" ry="1.9" fill="#eee" stroke="#333" stroke-width=".7"/>
<path d="M719.4,462.5 H711" stroke="#222" stroke-width=".7"/><path d="M712.4,460.7 L708.6,462.5 L712.4,464.3Z" fill="#222"/>
</g>
<g id="tankmech">
<!-- inlet end, valve and float -->
<path d="M155.6,360.7 L161.8,368 V361Z" fill="#aaa" stroke="#444" stroke-width=".5"/>
<rect x="158" y="356.2" width="14.4" height="3" class="bp" stroke-width=".6"/>
<circle cx="155.6" cy="357.7" r="3.2" class="bp" stroke-width=".7"/>
<rect x="172.1" y="353.2" width="7.2" height="8.6" rx="1" fill="#8f8f8f" stroke="#333" stroke-width=".7"/>
<path d="M175.7,353 V348.6" stroke="#222" stroke-width="1.6"/><path d="M172.1,348.2 H180.3" stroke="#222" stroke-width="1.7"/>
<rect x="179.3" y="354.6" width="6.2" height="8.2" fill="#e6e6e6" stroke="#333" stroke-width=".6"/>
<path d="M185.5,356 L201,354.4 V357 L185.5,358.8Z" fill="#e8e8e8" stroke="#333" stroke-width=".6"/>
<path d="M200.3,355.4 V368.6" stroke="#333" stroke-width=".9"/>
<path d="M193.7,368.4 H207.1 V377.6 Q207.1,381.4 200.4,381.4 Q193.7,381.4 193.7,377.6Z" fill="#868686" stroke="#444" stroke-width=".7"/>
<path d="M193.7,371.2 H207.1" stroke="#555" stroke-width=".5"/>
<!-- arrow -->
<path d="M123.4,349 H134 M132.6,346 L140.4,349 L132.6,352Z" stroke="#111" stroke-width="1.6" fill="#111" stroke-linejoin="round"/>
<!-- drain valve bottom-left of tank -->
<rect x="151.5" y="482.4" width="12" height="3.4" fill="#e6e6e6" stroke="#444" stroke-width=".6"/>
<rect x="155.4" y="478.6" width="4.6" height="8.6" rx="1" fill="#ddd" stroke="#333" stroke-width=".6"/>
<path d="M157.6,478.6 V475.4 L160.4,473.6" stroke="#333" stroke-width=".8" fill="none"/>
<path d="M162.4,480.6 H167.4 M162.4,483.4 H167.4" stroke="#333" stroke-width=".6"/>
<!-- suction strainer plate inside tank -->
<path d="M240,478.4 H262" stroke="#333" stroke-width="1"/>
<path d="M246.4,470 H257.4 M246.4,473 H257.4 M246.4,476 H257.4" stroke="#2d5877" stroke-width=".5"/>
</g>
<g id="yellowfit">
<!-- fittings & gauge on yellow riser -->
<rect x="601.2" y="277.6" width="5" height="6.2" rx="1.6" fill="#d9b21c" stroke="#5d4a08" stroke-width=".6"/>
<path d="M596,280.4 H601.4" stroke="#333" stroke-width="1.3"/>
<rect x="601.2" y="290.3" width="5" height="6.4" rx="1.6" fill="#d9b21c" stroke="#5d4a08" stroke-width=".6"/>
<path d="M597.2,289.6 L601.4,294.4 L599,294.6Z" stroke="#333" stroke-width="1.1" fill="#999"/>
<rect x="600.6" y="304.6" width="6.6" height="4" rx="1" fill="#e6cf7a" stroke="#5d4a08" stroke-width=".6"/>
<path d="M607.2,306.6 H612 M612,304.6 V308.6" stroke="#333" stroke-width=".9"/>
<path d="M593.6,311.4 L596,318.4 H602.4" stroke="#333" stroke-width="1.4" fill="none"/>
<circle cx="593.3" cy="306.4" r="4.3" fill="#fbfbfb" stroke="#333" stroke-width=".9"/><path d="M592.3,308.8 L594.9,304.2" stroke="#333" stroke-width=".8"/>
</g>
<g id="dashes">
<!-- fire alarm central to SPV -->
<path d="M294,116 L306.6,99 Q308.4,96.6 311,96.6 H317.4" class="dl"/>
<path d="M317.4,105.4 H311.6 Q309.6,105.4 309.6,107.4 V157" class="dl"/><path d="M309.6,169.4 V253.4 H327" class="dl"/>
<!-- header gauges to control panel -->
<path d="M422,297.8 H447 Q450.2,297.8 450.2,301 V386 Q450.2,389.2 453.4,389.2 H473.7" class="ds"/>
<!-- control panel to motor -->
<path d="M490.5,407.7 V443" class="ds"/>
<!-- control panel to compressor -->
<path d="M508.6,370 H699 Q702.4,370 702.4,367 V345.2" class="ds"/>
<!-- control panel to jockey pump -->
<path d="M508.6,391.6 H601.4 Q604.8,391.6 604.8,394.8 V435" class="ds"/>
<path d="M508.6,397.6 H570.4" class="ds"/>
</g>
<g id="labels">
<text x="193.7" y="58.3" text-anchor="middle" font-size="15.5" textLength="134" lengthAdjust="spacingAndGlyphs">Защита помещений</text>
<text x="180" y="75.3" text-anchor="middle" font-size="12" textLength="243" lengthAdjust="spacingAndGlyphs">(запуск от системы пожарной сигнализации)</text>
<text x="651.7" y="56.5" text-anchor="middle" font-size="15.5" textLength="124" lengthAdjust="spacingAndGlyphs">Защита установок</text>
<text x="656" y="77.5" text-anchor="middle" font-size="12" textLength="238" lengthAdjust="spacingAndGlyphs">(пневматический запуск от термодатчиков)</text>
<text x="319.5" y="94.5" font-size="11.8" textLength="95.5" lengthAdjust="spacingAndGlyphs">Централь системы</text>
<text x="319.5" y="110" font-size="11.8" textLength="99.5" lengthAdjust="spacingAndGlyphs">пожарной сигнали-</text>
<text x="319.5" y="124.5" font-size="11.8" textLength="30" lengthAdjust="spacingAndGlyphs">зации</text>
<text x="176.4" y="245.9" class="t" textLength="73.2" lengthAdjust="spacingAndGlyphs">Дренчерный</text>
<text x="176.4" y="260.1" class="t" textLength="59.5" lengthAdjust="spacingAndGlyphs">ороситель</text>
<text x="159" y="291" class="t" textLength="131.4" lengthAdjust="spacingAndGlyphs">Пожарный извещатель</text>
<text x="816.4" y="148.1" class="t" textLength="73" lengthAdjust="spacingAndGlyphs">Дренчерный</text>
<text x="819.5" y="163.8" class="t" textLength="59.7" lengthAdjust="spacingAndGlyphs">ороситель</text>
<text x="773.4" y="182.2" class="t" textLength="74.7" lengthAdjust="spacingAndGlyphs">Термодатчик</text>
<text x="689.4" y="258" class="t" textLength="88" lengthAdjust="spacingAndGlyphs">Объект защиты</text>
<text x="407.6" y="237" font-size="14.5" font-weight="bold" fill="#111" textLength="21.8" lengthAdjust="spacingAndGlyphs">SPV</text>
<text x="448.4" y="237" font-size="14.5" font-weight="bold" fill="#111" textLength="21.2" lengthAdjust="spacingAndGlyphs">FSX</text>
<text x="436" y="258" text-anchor="middle" font-size="9.6" fill="#333" textLength="31.2" lengthAdjust="spacingAndGlyphs">станции</text>
<text x="436" y="269" text-anchor="middle" font-size="9.6" fill="#333" textLength="45.6" lengthAdjust="spacingAndGlyphs">управления</text>
<text x="689.6" y="303.2" class="t" textLength="70.8" lengthAdjust="spacingAndGlyphs">Компрессор</text>
<text x="169.5" y="326.4" class="t" textLength="58" lengthAdjust="spacingAndGlyphs">Механизм</text>
<text x="163" y="341.4" class="t" textLength="106" lengthAdjust="spacingAndGlyphs">заполнения водой</text>
<text x="82.5" y="377.4" class="t" textLength="75" lengthAdjust="spacingAndGlyphs">Подача воды</text>
<text x="312" y="366.4" class="t" textLength="53" lengthAdjust="spacingAndGlyphs">Тестовый</text>
<text x="312" y="382.4" class="t" textLength="69" lengthAdjust="spacingAndGlyphs">водопровод</text>
<text x="314.5" y="398.4" class="t" textLength="60.5" lengthAdjust="spacingAndGlyphs">для насоса</text>
<text x="510.5" y="363.5" class="t" textLength="66" lengthAdjust="spacingAndGlyphs">Автоматика</text>
<text x="589" y="363.5" class="t" textLength="67" lengthAdjust="spacingAndGlyphs">управления</text>
<text x="510.5" y="380" class="t" textLength="98.5" lengthAdjust="spacingAndGlyphs">водоснабжением</text>
<text x="180.6" y="418.5" class="t" textLength="61.4" lengthAdjust="spacingAndGlyphs">Пожарный</text>
<text x="180.6" y="435.6" class="t" textLength="60.4" lengthAdjust="spacingAndGlyphs">резервуар</text>
<text x="67.5" y="451" class="t" textLength="71" lengthAdjust="spacingAndGlyphs">Переливной</text>
<text x="67.5" y="467.5" class="t" textLength="70.5" lengthAdjust="spacingAndGlyphs">водопровод</text>
<text x="627.6" y="443" class="t" textLength="157.8" lengthAdjust="spacingAndGlyphs">Насос поддержки давления</text>
<text x="708" y="478.4" class="t" textLength="73.5" lengthAdjust="spacingAndGlyphs">Подача воды</text>
<text x="653.4" y="506" class="t" textLength="59.6" lengthAdjust="spacingAndGlyphs">Резервуар</text>
<text x="439.5" y="506" class="t" textLength="123" lengthAdjust="spacingAndGlyphs">Спринклерный насос</text>
<text x="292.5" y="482.8" class="t" textLength="81" lengthAdjust="spacingAndGlyphs">Всасывающий</text>
<text x="292.5" y="500" class="t" textLength="70.5" lengthAdjust="spacingAndGlyphs">водопровод</text>
</g>
</svg>
</body></html>
